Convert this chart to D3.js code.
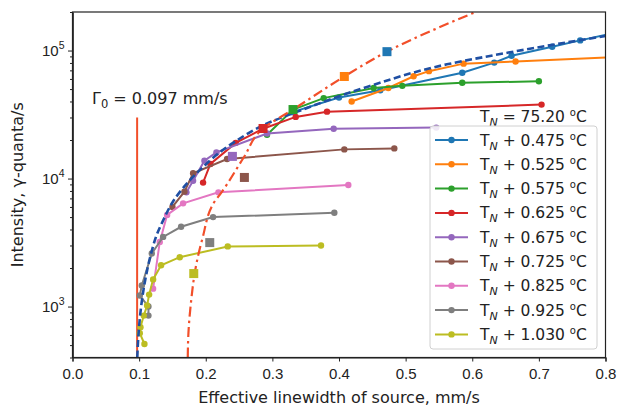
<!DOCTYPE html>
<html>
<head>
<meta charset="utf-8">
<script src="https://cdn.jsdelivr.net/npm/d3@7"></script>
<style>
  body { margin: 0; background: #fff; }
  svg { font-family: "DejaVu Sans", sans-serif; }
</style>
</head>
<body>
<script>
// series labels (offset above T_N) and colours
const offsets = ["0.475", "0.525", "0.575", "0.625", "0.675", "0.725", "0.825", "0.925", "1.030"];
const colors = ["#1f77b4", "#ff7f0e", "#2ca02c", "#d62728", "#9467bd", "#8c564b", "#e377c2", "#7f7f7f", "#bcbd22"];

// measured points [linewidth mm/s, intensity]
const s0475 = [[0.33, 3.3e4], [0.40, 4.3e4], [0.462, 4.9e4], [0.585, 6.7e4], [0.633, 8.05e4], [0.659, 9.1e4], [0.720, 1.07e5], [0.762, 1.2e5], [0.82, 1.4e5]];
const s0525 = [[0.419, 4.0e4], [0.474, 5.1e4], [0.512, 6.3e4], [0.535, 6.9e4], [0.587, 7.9e4], [0.665, 8.2e4], [0.82, 8.9e4]];
const s0575 = [[0.292, 2.2e4], [0.331, 3.46e4], [0.377, 4.25e4], [0.452, 5.1e4], [0.495, 5.3e4], [0.585, 5.6e4], [0.700, 5.75e4]];
const s0625 = [[0.196, 9.3e3], [0.207, 1.3e4], [0.245, 1.9e4], [0.286, 2.45e4], [0.335, 3.03e4], [0.382, 3.33e4], [0.704, 3.78e4]];
const s0675 = [[0.171, 7.8e3], [0.181, 9.6e3], [0.198, 1.38e4], [0.216, 1.6e4], [0.292, 2.25e4], [0.392, 2.45e4], [0.546, 2.5e4]];
const s0725 = [[0.150, 6.0e3], [0.168, 7.9e3], [0.181, 1.1e4], [0.232, 1.42e4], [0.408, 1.69e4], [0.483, 1.72e4]];
const s0825 = [[0.121, 1.38e3], [0.131, 3.2e3], [0.142, 5.2e3], [0.166, 6.4e3], [0.219, 7.8e3], [0.414, 8.9e3]];
const s0925 = [[0.114, 850], [0.114, 1.0e3], [0.101, 1.22e3], [0.104, 1.46e3], [0.119, 2.6e3], [0.136, 3.5e3], [0.163, 4.2e3], [0.211, 5.0e3], [0.393, 5.4e3]];
const s1030 = [[0.108, 510], [0.101, 620], [0.102, 690], [0.107, 850], [0.112, 1.02e3], [0.115, 1.24e3], [0.121, 1.63e3], [0.133, 2.1e3], [0.161, 2.43e3], [0.233, 2.95e3], [0.373, 3.0e3]];
const seriesData = [s0475, s0525, s0575, s0625, s0675, s0725, s0825, s0925, s1030];

// dashed fit curve and dash-dot curve
const fitCurve = [[0.0972, 400], [0.099, 600], [0.103, 1.0e3], [0.109, 1.6e3], [0.118, 2.6e3], [0.127, 3.7e3], [0.136, 4.7e3], [0.150, 6.5e3], [0.187, 1.11e4], [0.241, 1.9e4], [0.292, 2.69e4], [0.342, 3.4e4], [0.442, 5.2e4], [0.562, 7.8e4], [0.662, 9.8e4], [0.80, 1.3e5]];
const dashDotCurve = [[0.173, 400], [0.174, 620], [0.178, 1.1e3], [0.184, 1.9e3], [0.195, 3.4e3], [0.214, 6.7e3], [0.222, 7.6e3], [0.257, 1.46e4], [0.286, 2.46e4], [0.331, 3.46e4], [0.408, 6.27e4], [0.472, 9.8e4], [0.605, 2.0e5]];

// square markers [x, y, series index]
const squares = [[0.472, 9.8e4, 0], [0.408, 6.27e4, 1], [0.331, 3.46e4, 2], [0.286, 2.46e4, 3], [0.240, 1.49e4, 4], [0.258, 1.02e4, 5], [0.206, 3.16e3, 7], [0.182, 1.81e3, 8]];

const gamma0 = 0.097, gammaTop = 3.0e4;
const xTicks = [0, 0.1, 0.2, 0.3, 0.4, 0.5, 0.6, 0.7, 0.8];
const yMajor = [1e3, 1e4, 1e5];

const W = 620, H = 406;
const m = {left: 72.5, right: 14.5, top: 12, bottom: 48.5};
const accent = "#f24f2a";

const svg = d3.select("body").append("svg").attr("width", W).attr("height", H);

const x = d3.scaleLinear().domain([0, 0.8]).range([m.left, W - m.right]);
const y = d3.scaleLog().domain([400, 2e5]).range([H - m.bottom, m.top]);

svg.append("clipPath").attr("id", "clip")
  .append("rect").attr("x", m.left).attr("y", m.top)
  .attr("width", W - m.left - m.right).attr("height", H - m.top - m.bottom);

const plot = svg.append("g").attr("clip-path", "url(#clip)");
const line = d3.line().x(d => x(d[0])).y(d => y(d[1]));
const smooth = d3.line().x(d => x(d[0])).y(d => y(d[1])).curve(d3.curveMonotoneY);

// vertical Gamma_0 line
plot.append("line")
  .attr("x1", x(gamma0)).attr("x2", x(gamma0))
  .attr("y1", y(gammaTop)).attr("y2", y(400))
  .attr("stroke", accent).attr("stroke-width", 2);

seriesData.forEach((s, i) => {
  plot.append("path").datum(s)
    .attr("d", line).attr("fill", "none")
    .attr("stroke", colors[i]).attr("stroke-width", 2);
  plot.selectAll(null).data(s).enter().append("circle")
    .attr("cx", d => x(d[0])).attr("cy", d => y(d[1])).attr("r", 3.2)
    .attr("fill", colors[i]);
});

plot.append("path").datum(fitCurve)
  .attr("d", smooth).attr("fill", "none")
  .attr("stroke", "#1f4fa3").attr("stroke-width", 2.6)
  .attr("stroke-dasharray", "7,3.5");

plot.append("path").datum(dashDotCurve)
  .attr("d", smooth).attr("fill", "none")
  .attr("stroke", accent).attr("stroke-width", 2.2)
  .attr("stroke-dasharray", "10,4,2.5,4");

plot.selectAll(".sq").data(squares).enter().append("rect")
  .attr("class", "sq")
  .attr("x", d => x(d[0]) - 4.5).attr("y", d => y(d[1]) - 4.5)
  .attr("width", 9).attr("height", 9)
  .attr("fill", d => colors[d[2]]);

// axes
const ax = svg.append("g").attr("transform", `translate(0,${H - m.bottom})`)
  .call(d3.axisBottom(x).tickValues(xTicks).tickFormat(d3.format(".1f")).tickSizeOuter(0).tickSize(4));
ax.selectAll("text").attr("font-size", 15).attr("fill", "#222").attr("dy", "0.95em");

const yMinor = [];
[100, 1000, 10000, 100000].forEach(b => { for (let k = 2; k <= 9; k++) { const v = b * k; if (v >= 400 && v <= 2e5 && !yMajor.includes(v)) yMinor.push(v); } });
svg.append("g").attr("transform", `translate(${m.left},0)`)
  .call(d3.axisLeft(y).tickValues(yMinor).tickFormat("").tickSize(2.5).tickSizeOuter(0));
const ay = svg.append("g").attr("transform", `translate(${m.left},0)`)
  .call(d3.axisLeft(y).tickValues(yMajor).tickFormat("").tickSize(4.5).tickSizeOuter(0));
ay.selectAll(".tick").append("text")
  .attr("x", -8).attr("dy", "0.35em").attr("text-anchor", "end").attr("fill", "#222").attr("font-size", 15)
  .each(function(d) {
    const t = d3.select(this);
    t.append("tspan").text("10");
    t.append("tspan").attr("font-size", 10.5).attr("dy", -7).text(Math.round(Math.log10(d)));
  });

svg.selectAll(".domain").attr("stroke", "#222").attr("stroke-width", 1.2);
svg.selectAll(".tick line").attr("stroke", "#222");

// frame
svg.append("rect").attr("x", m.left).attr("y", m.top)
  .attr("width", W - m.left - m.right).attr("height", H - m.top - m.bottom)
  .attr("fill", "none").attr("stroke", "#222").attr("stroke-width", 1.2);

// axis labels
svg.append("text").attr("x", (m.left + W - m.right) / 2).attr("y", H - 3)
  .attr("text-anchor", "middle").attr("font-size", 16).attr("fill", "#222")
  .text("Effective linewidth of source, mm/s");
svg.append("text").attr("transform", `translate(23,${(m.top + H - m.bottom) / 2}) rotate(-90)`)
  .attr("text-anchor", "middle").attr("font-size", 16).attr("fill", "#222")
  .text("Intensity, γ-quanta/s");

// Gamma_0 annotation
const g0 = svg.append("text").attr("x", 92).attr("y", 104).attr("font-size", 16).attr("fill", "#222");
g0.append("tspan").text("Γ");
g0.append("tspan").attr("font-size", 11.5).attr("dy", 4).text("0");
g0.append("tspan").attr("dy", -4).text(" = 0.097 mm/s");

function tnLabel(sel, rest) {
  sel.append("tspan").text("T");
  sel.append("tspan").attr("font-size", 11).attr("font-style", "italic").attr("dy", 4).text("N");
  sel.append("tspan").attr("dy", -4).text(rest);
  sel.append("tspan").attr("font-size", 10).attr("dy", -6).text("o");
  sel.append("tspan").attr("dy", 6).text("C");
}

// T_N note above the legend
tnLabel(svg.append("text").attr("x", 480).attr("y", 122).attr("font-size", 15.5).attr("fill", "#222"), " = 75.20 ");

// legend
const lg = svg.append("g");
lg.append("rect").attr("x", 430).attr("y", 126).attr("width", 167).attr("height", 223)
  .attr("rx", 3).attr("fill", "#fff").attr("fill-opacity", 0.85)
  .attr("stroke", "#d0d0d0");
offsets.forEach((o, i) => {
  const cy = 140 + i * 24.3;
  lg.append("line").attr("x1", 435).attr("x2", 468).attr("y1", cy).attr("y2", cy)
    .attr("stroke", colors[i]).attr("stroke-width", 2);
  lg.append("circle").attr("cx", 451.5).attr("cy", cy).attr("r", 3.2).attr("fill", colors[i]);
  tnLabel(lg.append("text").attr("x", 480).attr("y", cy + 5.5).attr("font-size", 15.5).attr("fill", "#222"), " + " + o + " ");
});
</script>
</body>
</html>
